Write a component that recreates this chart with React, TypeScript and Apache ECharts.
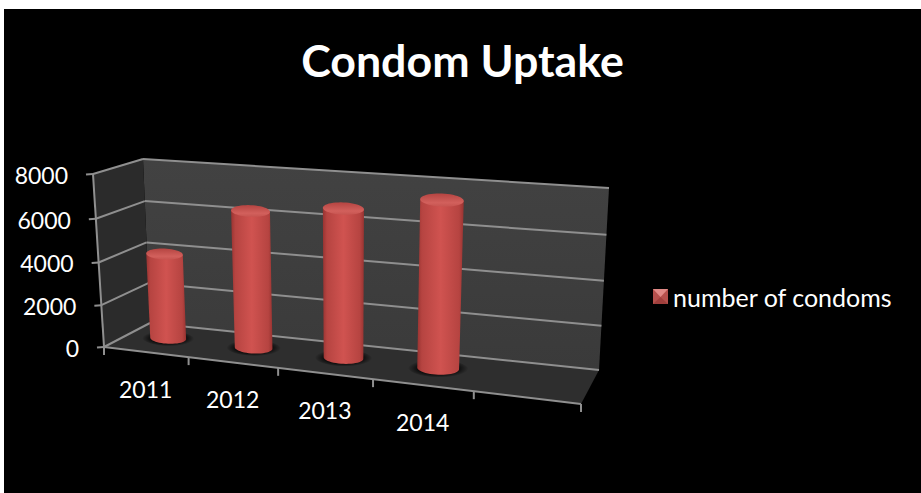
import React, { useEffect, useRef } from "react";
import * as echarts from "echarts";

const categories = ["2011", "2012", "2013", "2014", ""];
const seriesName = "number of condoms";
const condoms = [4050, 6350, 6750, 7400, null];
const valueTicks = [0, 2000, 4000, 6000, 8000];

type P = [number, number];
// square-to-quad homography (u right, v up); corners: bottom-left, bottom-right, top-right, top-left
function quadMap(q: P[]) {
  const [p0, p1, p2, p3] = q;
  const dx1 = p1[0] - p2[0], dx2 = p3[0] - p2[0], sx = p0[0] - p1[0] + p2[0] - p3[0];
  const dy1 = p1[1] - p2[1], dy2 = p3[1] - p2[1], sy = p0[1] - p1[1] + p2[1] - p3[1];
  const den = dx1 * dy2 - dx2 * dy1;
  const g = (sx * dy2 - dx2 * sy) / den;
  const h = (dx1 * sy - sx * dy1) / den;
  const a = p1[0] - p0[0] + g * p1[0], b = p3[0] - p0[0] + h * p3[0], c = p0[0];
  const d = p1[1] - p0[1] + g * p1[1], e = p3[1] - p0[1] + h * p3[1], f = p0[1];
  return (u: number, v: number): P => {
    const w = g * u + h * v + 1;
    return [(a * u + b * v + c) / w, (d * u + e * v + f) / w];
  };
}
const backWall = quadMap([[150, 323], [599, 370], [609, 188], [143, 159]]);
const frontWall = quadMap([[104, 347], [581, 404], [594, 205], [93, 174]]);
// u across categories, v up the value axis, d from back wall (0) to front edge (1)
const project = (u: number, v: number, d: number): P => {
  const a = backWall(u, v), b = frontWall(u, v);
  return [a[0] + (b[0] - a[0]) * d, a[1] + (b[1] - a[1]) * d];
};

const FONT = "Lato";
const LINE = "#8f8f8f";

export default function App() {
  const ref = useRef<HTMLDivElement>(null);
  useEffect(() => {
    document.body.style.margin = "0";
    document.body.style.background = "#fff";
    const chart = echarts.init(ref.current!, undefined, { renderer: "svg" });
    const n = categories.length;

    const norm = (api: any, params: any, cat: number, val: number): [number, number] => {
      const c = api.coord([cat, val]);
      const s = params.coordSys;
      return [(c[0] - s.x) / s.width, 1 - (c[1] - s.y) / s.height];
    };

    const line = (a: P, b: P, width = 2) => ({
      type: "line",
      shape: { x1: a[0], y1: a[1], x2: b[0], y2: b[1] },
      style: { stroke: LINE, lineWidth: width },
    });
    const poly = (pts: P[], style: any) => ({ type: "polygon", shape: { points: pts }, style });

    const renderFrame = (params: any, api: any) => {
      if (params.dataIndex !== 0) return { type: "group", children: [] };
      const vr = (v: number) => v / 8000;
      const children: any[] = [
        poly([project(0, 0, 0), project(1, 0, 0), project(1, 1, 0), project(0, 1, 0)], {
          fill: { type: "linear", x: 0, y: 0, x2: 0, y2: 1, colorStops: [
            { offset: 0, color: "#424242" }, { offset: 1, color: "#3a3a3a" } ] },
        }),
        poly([project(0, 0, 1), project(0, 0, 0), project(0, 1, 0), project(0, 1, 1)], { fill: "#2b2b2b" }),
        poly([project(0, 0, 1), project(1, 0, 1), project(1, 0, 0), project(0, 0, 0)], { fill: "#2e2e2e" }),
      ];
      valueTicks.forEach((t) => {
        const v = vr(t);
        children.push(line(project(0, v, 1), project(0, v, 0)));
        children.push(line(project(0, v, 0), project(1, v, 0)));
        const f = project(0, v, 1);
        children.push(line(f, [f[0] - 7, f[1] + 0.5]));
        children.push({
          type: "text",
          style: {
            x: f[0] - 25, y: f[1] + 1, text: String(t), fill: "#fff",
            font: `23px ${FONT}`, align: "right", verticalAlign: "middle",
          },
        });
      });
      children.push(line(project(0, 0, 1), project(0, 1, 1)));
      children.push(line(project(0, 0, 1), project(1, 0, 1)));
      for (let i = 0; i <= n; i++) {
        const t = project(i / n, 0, 1);
        children.push(line(t, [t[0], t[1] + 8]));
      }
      categories.forEach((c, i) => {
        const [u] = norm(api, params, i, 0);
        const t = project(u, 0, 1);
        children.push({
          type: "text",
          style: {
            x: t[0], y: t[1] + 37, text: c, fill: "#fff",
            font: `23px ${FONT}`, align: "center", verticalAlign: "middle",
          },
        });
      });
      return { type: "group", children };
    };

    const renderBar = (params: any, api: any) => {
      const cat = api.value(0);
      const val = api.value(1);
      const [u, v] = norm(api, params, cat, val);
      const ru = (0.43 / n) / 2;
      const ring = (vv: number, grow = 1): P[] => {
        const cx = project(u, vv, 0.5)[0];
        const cy = project(u, vv, 0.45)[1];
        const hw = (project(u + ru, vv, 0.5)[0] - project(u - ru, vv, 0.5)[0]) / 2;
        const hh = hw * 0.3;
        const pts: P[] = [];
        for (let k = 0; k < 48; k++) {
          const a = (k / 48) * Math.PI * 2;
          const ex = hw * grow * Math.cos(a);
          pts.push([cx + ex, cy + hh * grow * Math.sin(a) + ex * 0.04]);
        }
        return pts;
      };
      const base = ring(0), top = ring(v);
      const body: P[] = [top[24], top[0]];
      for (let k = 0; k <= 24; k++) body.push(base[k]);
      const bodyFill = new echarts.graphic.LinearGradient(0, 0, 1, 0, [
        { offset: 0, color: "#983331" },
        { offset: 0.1, color: "#b64441" },
        { offset: 0.5, color: "#d05350" },
        { offset: 0.9, color: "#b64441" },
        { offset: 1, color: "#983331" },
      ]);
      const capFill = new echarts.graphic.LinearGradient(0, 0, 0, 1, [
        { offset: 0, color: "#b54441" },
        { offset: 0.7, color: "#d2605c" },
        { offset: 1, color: "#c65450" },
      ]);
      return {
        type: "group",
        children: [
          poly(ring(0, 1.45), {
            fill: new echarts.graphic.RadialGradient(0.5, 0.5, 0.5, [
              { offset: 0, color: "rgba(0,0,0,0.95)" },
              { offset: 0.65, color: "rgba(0,0,0,0.75)" },
              { offset: 1, color: "rgba(0,0,0,0)" },
            ]),
          }),
          poly(body, { fill: bodyFill }),
          poly(top, { fill: capFill }),
        ],
      };
    };

    chart.setOption({
      animation: false,
      backgroundColor: "transparent",
      title: {
        text: "Condom Uptake", left: 457.5, top: 32, textAlign: "center",
        textStyle: { color: "#fff", fontFamily: FONT, fontWeight: "bold", fontSize: 44.7 },
      },
      legend: {
        data: [{ name: seriesName, icon: "rect" }],
        left: 648, top: 279, itemWidth: 15, itemHeight: 15, itemGap: 7,
        selectedMode: false,
        textStyle: { color: "#fff", fontFamily: FONT, fontSize: 25 },
        itemStyle: { color: "#b5504c" },
      },
      grid: { left: 100, right: 321, top: 150, bottom: 143, show: false },
      xAxis: { type: "category", data: categories, show: false },
      yAxis: { type: "value", min: 0, max: 8000, interval: 2000, show: false },
      graphic: [
        { type: "rect", z: -10, silent: true, shape: { x: 4, y: 9, width: 917, height: 484 }, style: { fill: "#000" } },
        { type: "polygon", z: 200, silent: true, shape: { points: [[653, 289], [668, 289], [660.5, 297]] }, style: { fill: "#e08a86" } },
        { type: "polygon", z: 200, silent: true, shape: { points: [[653, 304], [668, 304], [660.5, 297]] }, style: { fill: "#a03f3c" } },
      ],
      series: [
        {
          type: "custom", name: "frame", coordinateSystem: "cartesian2d", silent: true, z: 1,
          data: categories.map((_, i) => [i, 0]), renderItem: renderFrame, clip: false,
        },
        {
          type: "custom", name: seriesName, coordinateSystem: "cartesian2d", silent: true, z: 2,
          data: condoms.map((v, i) => [i, v]).filter((d) => d[1] !== null),
          renderItem: renderBar, clip: false,
          encode: { x: 0, y: 1 },
          itemStyle: { color: "#c0504d" },
        },
      ],
    });
    return () => chart.dispose();
  }, []);
  return <div ref={ref} style={{ position: "absolute", left: 0, top: 0, width: 921, height: 493 }} />;
}
